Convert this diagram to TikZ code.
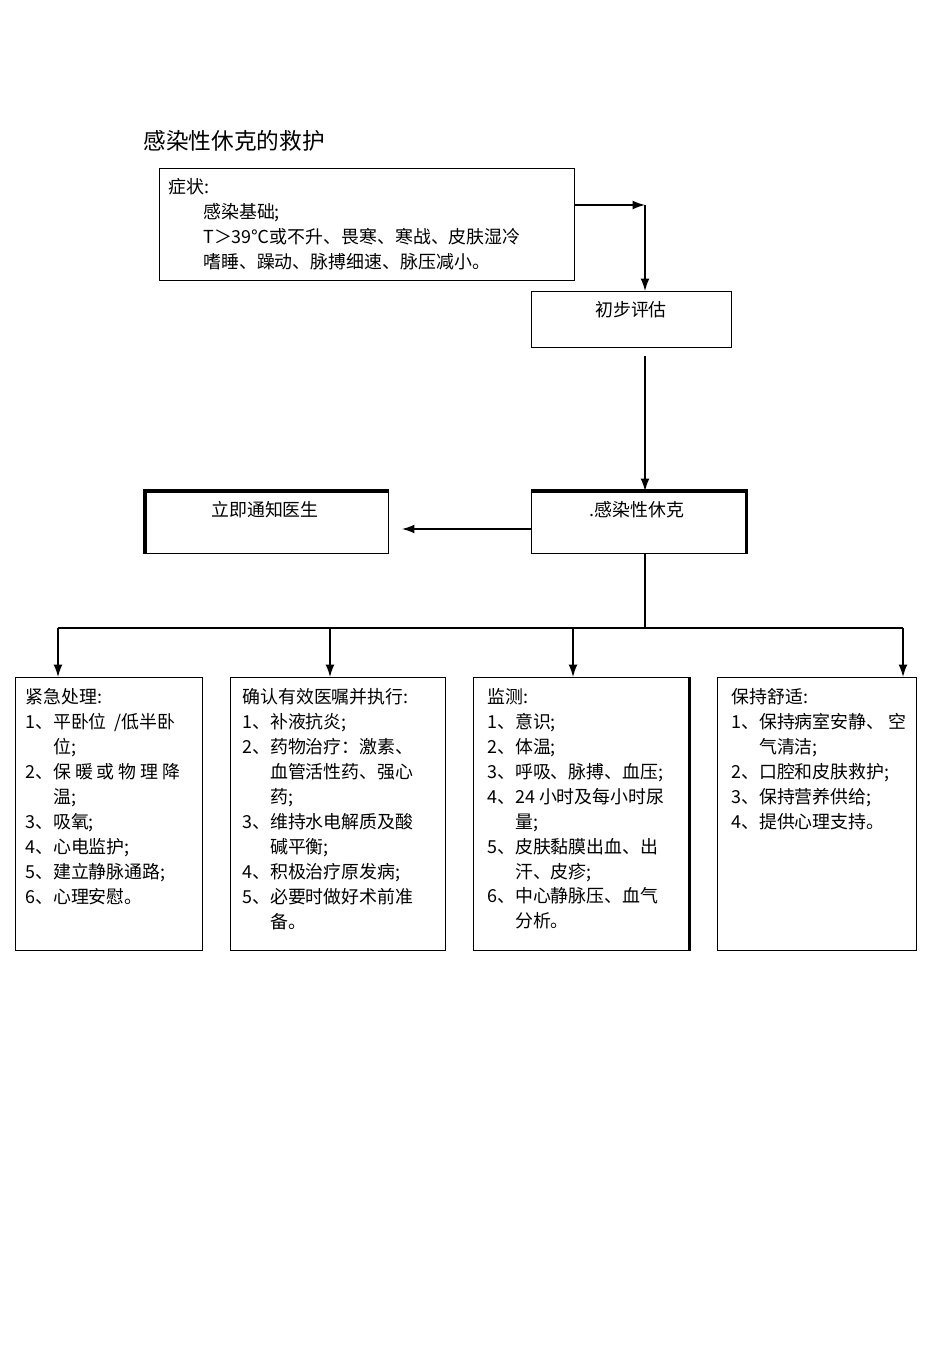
\documentclass[tikz,border=0pt]{standalone}
\usepackage{fontspec}
\setmainfont{Noto Sans CJK SC}
\usetikzlibrary{positioning,arrows.meta,calc}

\newcommand\stepno[1]{\makebox[1.55em][l]{#1、}}
\newcommand\contline{\hspace*{1.55em}}

\begin{document}
\begin{tikzpicture}[x=0.02cm,y=-0.02cm,
  box/.style={draw, line width=0.8pt, inner sep=0pt, anchor=north west},
  txt/.style={inner sep=0pt, align=left, anchor=north west,
    font=\fontsize{10.2}{14.2}\selectfont},
  lbl/.style={inner sep=0pt, font=\fontsize{10.2}{14.2}\selectfont},
  arr/.style={-{Latex[length=7pt,width=5pt]}, line width=0.8pt}]
  \useasboundingbox (0,0) rectangle (950,1345);

  % Title
  \node[anchor=west, inner sep=0pt, font=\fontsize{12.9}{15}\selectfont]
    (title) at (143,141) {感染性休克的救护};

  % Symptoms
  \node[box, minimum width=8.3cm, minimum height=2.24cm] (sym) at (159,168) {};
  \node[txt] (symtxt) at (168,178)
    {症状:\\
     \hspace*{1.95em}感染基础;\\
     \hspace*{1.95em}T＞39℃或不升、畏寒、寒战、皮肤湿冷\\
     \hspace*{1.95em}嗜睡、躁动、脉搏细速、脉压减小。};

  % Assessment and shock boxes
  \node[box, minimum width=4cm, minimum height=1.12cm] (eval) at (531,291) {};
  \node[lbl] (evaltxt) at (631,310) {初步评估};
  \node[box, minimum width=4.28cm, minimum height=1.24cm] (shock) at (531,491) {};
  \node[lbl] (shocktxt) at (637,510) {.感染性休克};
  \node[box, minimum width=4.86cm, minimum height=1.24cm] (doctor) at (145,491) {};
  \node[lbl] (doctortxt) at (265,510) {立即通知医生};
  \draw[line width=1.8pt] (doctor.south west) -- (doctor.north west) -- (doctor.north east);
  \draw[line width=1.8pt] (shock.north west) -- (shock.north east) -- (shock.south east);

  % Bottom boxes
  \foreach \n/\x/\w in {1/15/3.74, 2/230/4.3, 3/473/4.3, 4/717/3.98}
    \node[box, minimum width=\w cm, minimum height=5.46cm] (b\n) at (\x,677) {};
  \draw[line width=1.4pt] (b3.north east) -- (b3.south east);

  \node[txt] (b1txt) at (25,688)
    {紧急处理:\\
     \stepno{1}平卧位\ \ /低半卧\\
     \contline 位;\\
     \stepno{2}保\ 暖\ 或\ 物\ 理\ 降\\
     \contline 温;\\
     \stepno{3}吸氧;\\
     \stepno{4}心电监护;\\
     \stepno{5}建立静脉通路;\\
     \stepno{6}心理安慰。};
  \node[txt] (b2txt) at (242,688)
    {确认有效医嘱并执行:\\
     \stepno{1}补液抗炎;\\
     \stepno{2}药物治疗：激素、\\
     \contline 血管活性药、强心\\
     \contline 药;\\
     \stepno{3}维持水电解质及酸\\
     \contline 碱平衡;\\
     \stepno{4}积极治疗原发病;\\
     \stepno{5}必要时做好术前准\\
     \contline 备。};
  \node[txt] (b3txt) at (487,688)
    {监测:\\
     \stepno{1}意识;\\
     \stepno{2}体温;\\
     \stepno{3}呼吸、脉搏、血压;\\
     \stepno{4}24\ 小时及每小时尿\\
     \contline 量;\\
     \stepno{5}皮肤黏膜出血、出\\
     \contline 汗、皮疹;\\
     \stepno{6}中心静脉压、血气\\
     \contline 分析。};
  \node[txt] (b4txt) at (731,688)
    {保持舒适:\\
     \stepno{1}保持病室安静、\ 空\\
     \contline 气清洁;\\
     \stepno{2}口腔和皮肤救护;\\
     \stepno{3}保持营养供给;\\
     \stepno{4}提供心理支持。};

  % Connectors
  \coordinate (c1) at (645,205);
  \draw[arr] (sym.east |- c1) -- (c1);
  \draw[arr] (c1) -- (c1 |- eval.north);
  \draw[arr] ($(c1 |- eval.south)+(0,8)$) -- (c1 |- shock.north);
  \coordinate (c2) at (402,529);
  \draw[arr] (shock.west |- c2) -- (c2);
  \coordinate (bus) at (645,628);
  \draw[line width=0.8pt] (c1 |- shock.south) -- (bus);
  \foreach \n/\x in {1/58, 2/330, 3/573, 4/903}
    \coordinate (t\n) at (\x,628);
  \draw[line width=0.8pt] (t1) -- (t4);
  \foreach \n in {1,...,4}
    \draw[arr] (t\n) -- (t\n |- b\n.north);
\end{tikzpicture}
\end{document}
